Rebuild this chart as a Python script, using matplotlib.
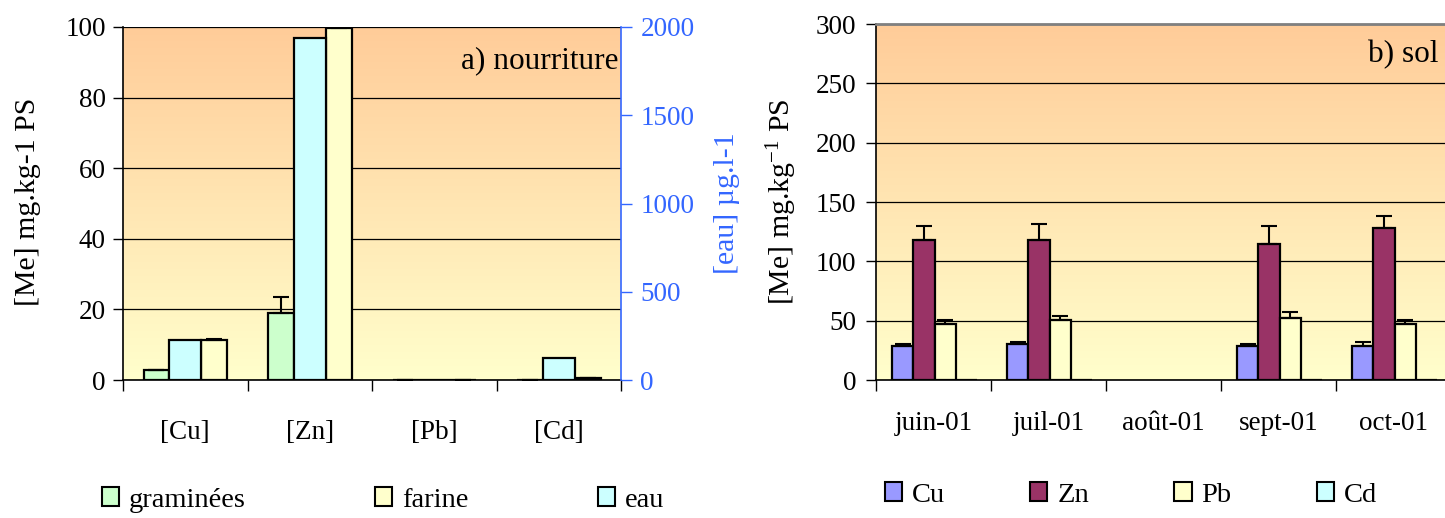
import numpy as np
import matplotlib
matplotlib.use("Agg")
import matplotlib.pyplot as plt
from matplotlib.patches import Patch
from matplotlib.colors import LinearSegmentedColormap

plt.rcParams['font.family'] = ['Liberation Serif', 'DejaVu Serif']
plt.rcParams['mathtext.fontset'] = 'custom'
plt.rcParams['mathtext.rm'] = 'Liberation Serif'
plt.rcParams['mathtext.it'] = 'Liberation Serif:italic'

# ---------- data: a) nourriture ----------
categories_a = ['[Cu]', '[Zn]', '[Pb]', '[Cd]']
graminees = [2.9, 18.9, 0.05, 0.08]
graminees_err = [0.0, 4.6, 0.0, 0.0]
farine = [11.4, 99.6, 0.1, 0.55]
farine_err = [0.2, 0.6, 0.0, 0.0]
eau = [228, 1935, 2, 126]          # µg/l, secondary axis

# ---------- data: b) sol ----------
months = ['juin-01', 'juil-01', 'août-01', 'sept-01', 'oct-01']
sol_cu = [28.5, 30.0, np.nan, 28.5, 28.5]
sol_cu_err = [1.5, 1.7, np.nan, 1.7, 3.4]
sol_zn = [118, 118, np.nan, 114.5, 128]
sol_zn_err = [12.0, 13.5, np.nan, 15.5, 10.4]
sol_pb = [47.0, 50.5, np.nan, 52.0, 47.0]
sol_pb_err = [3.4, 3.5, np.nan, 5.3, 3.4]
sol_cd = [0, 0, np.nan, 0, 0]

W, H = 1445, 518
fig = plt.figure(figsize=(W / 100, H / 100), dpi=100)

grad_cmap = LinearSegmentedColormap.from_list('bg', ['#FFFFCC', '#FFCC99'])
BLUE = '#3366FF'
FS_TICK = 19.5
FS_LAB = 21.5
FS_TITLE = 22.5


def add_gradient(ax):
    g = np.linspace(0, 1, 256).reshape(-1, 1)
    ax.imshow(g, extent=[0, 1, 0, 1], transform=ax.transAxes, origin='lower',
              aspect='auto', cmap=grad_cmap, zorder=-2)


def px_axes(x0, y0, x1, y1):
    return fig.add_axes([x0 / W, 1 - y1 / H, (x1 - x0) / W, (y1 - y0) / H])


# ================= a) nourriture =================
ax1 = px_axes(123, 27, 621, 380)
add_gradient(ax1)
xa = np.arange(len(categories_a)) + 0.5
bar_kw = dict(edgecolor='black', linewidth=1.6, zorder=2)
ax1.bar(xa - 0.232, graminees, width=0.205, color='#CCFFCC', **bar_kw)
ax1.bar(xa + 0.232, farine, width=0.209, color='#FFFFCC', **bar_kw)
err_kw = dict(fmt='none', ecolor='black', elinewidth=1.5, capsize=5.5, capthick=1.5, zorder=3)
ax1.errorbar(xa - 0.232, graminees, yerr=[np.zeros(4), graminees_err], **err_kw)
ax1.errorbar(xa + 0.232, farine, yerr=[np.zeros(4), farine_err], **err_kw)
ax1.set_xlim(0, 4)
ax1.set_ylim(0, 100)
ax1.set_yticks(np.arange(0, 101, 20))
ax1.yaxis.grid(True, color='black', linewidth=0.9, zorder=0)
ax1.set_axisbelow(True)
ax1.set_xticks(np.arange(0, 5))
ax1.set_xticklabels([])
ax1.set_xticks(xa, minor=True)
ax1.set_xticklabels(categories_a, minor=True, fontsize=FS_TICK)
ax1.tick_params(axis='x', which='major', direction='out', length=8, width=1)
ax1.tick_params(axis='x', which='minor', length=0, pad=29)
ax1.tick_params(axis='y', direction='out', length=7.5, width=1, labelsize=FS_TICK, pad=5)
ax1.spines['top'].set_visible(False)
ax1.spines['right'].set_visible(False)
for s in ('left', 'bottom'):
    ax1.spines[s].set_linewidth(1.2)

ax1b = ax1.twinx()
ax1b.bar(xa, eau, width=0.26, color='#CCFFFF', **bar_kw)
ax1b.set_ylim(0, 2000)
ax1b.set_yticks(np.arange(0, 2001, 500))
ax1b.tick_params(axis='y', colors=BLUE, direction='out', length=8, width=1,
                 labelsize=FS_TICK, pad=6)
for s in ('top', 'left', 'bottom'):
    ax1b.spines[s].set_visible(False)
ax1b.spines['right'].set_color(BLUE)
ax1b.spines['right'].set_linewidth(1.2)
ax1b.text(0.995, 0.905, 'a) nourriture', transform=ax1.transAxes, ha='right',
          va='center', fontsize=FS_TITLE)

fig.text(28 / W, 1 - 202 / H, '[Me] mg.kg-1 PS', rotation=90, ha='center',
         va='center', fontsize=FS_LAB)
fig.text(727 / W, 1 - 203 / H, '[eau] µg.l-1', rotation=90, ha='center',
         va='center', fontsize=FS_LAB, color=BLUE)

leg_a = [Patch(facecolor='#CCFFCC', edgecolor='black', linewidth=1.5, label='graminées'),
         Patch(facecolor='#FFFFCC', edgecolor='black', linewidth=1.5, label='farine'),
         Patch(facecolor='#CCFFFF', edgecolor='black', linewidth=1.5, label='eau')]
fig.legend(handles=leg_a, loc='center', bbox_to_anchor=(383 / W, 1 - 500 / H), ncol=3,
           frameon=False, fontsize=FS_LAB - 1, handlelength=0.6, handleheight=0.6,
           handletextpad=0.35, columnspacing=4.55, borderpad=0)

# ================= b) sol =================
ax2 = px_axes(876, 24, 1451, 380)
add_gradient(ax2)
xb = np.arange(len(months)) + 0.5
wb = 0.185
offs = (np.arange(4) - 1.5) * wb + 0.01
series_b = [(sol_cu, sol_cu_err, '#9999FF'), (sol_zn, sol_zn_err, '#993366'),
            (sol_pb, sol_pb_err, '#FFFFCC'), (sol_cd, None, '#CCFFFF')]
for (vals, errs, col), off in zip(series_b, offs):
    ax2.bar(xb + off, vals, width=wb, color=col, **bar_kw)
    if errs is not None:
        ax2.errorbar(xb + off, vals, yerr=[np.zeros(len(vals)), errs], **err_kw)
ax2.set_xlim(0, 5)
ax2.set_ylim(0, 300)
ax2.set_yticks(np.arange(0, 301, 50))
ax2.yaxis.grid(True, color='black', linewidth=0.9, zorder=0)
ax2.set_axisbelow(True)
ax2.set_xticks(np.arange(0, 6))
ax2.set_xticklabels([])
ax2.set_xticks(xb, minor=True)
ax2.set_xticklabels(months, minor=True, fontsize=FS_TICK)
ax2.tick_params(axis='x', which='major', direction='out', length=8, width=1)
ax2.tick_params(axis='x', which='minor', length=0, pad=22)
ax2.tick_params(axis='y', direction='out', length=7, width=1, labelsize=FS_TICK, pad=7)
ax2.spines['right'].set_visible(False)
ax2.spines['top'].set_color('#808080')
ax2.spines['top'].set_linewidth(2)
for s in ('left', 'bottom'):
    ax2.spines[s].set_linewidth(1.2)
ax2.text(1438 / W, 1 - 55 / H, 'b) sol', transform=fig.transFigure, ha='right',
         va='center', fontsize=FS_TITLE)
fig.text(782 / W, 1 - 202 / H, r'[Me] mg.kg$^{-1}$ PS', rotation=90, ha='center',
         va='center', fontsize=FS_LAB)

leg_b = [Patch(facecolor=c, edgecolor='black', linewidth=1.5, label=l)
         for c, l in zip(['#9999FF', '#993366', '#FFFFCC', '#CCFFFF'], ['Cu', 'Zn', 'Pb', 'Cd'])]
fig.legend(handles=leg_b, loc='center', bbox_to_anchor=(1131 / W, 1 - 495 / H), ncol=4,
           frameon=False, fontsize=FS_LAB - 1, handlelength=0.6, handleheight=0.6,
           handletextpad=0.35, columnspacing=3.0, borderpad=0)

fig.savefig('out.png', dpi=100)
